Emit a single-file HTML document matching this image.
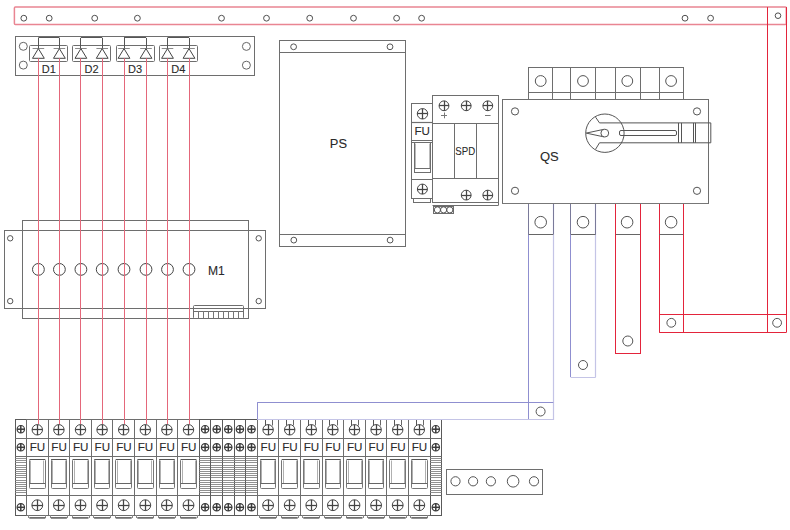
<!DOCTYPE html><html><head><meta charset="utf-8"><style>html,body{margin:0;padding:0;background:#fff;width:790px;height:530px;overflow:hidden}svg{display:block;font-family:"Liberation Sans",sans-serif}</style></head><body>
<svg width="790" height="530" viewBox="0 0 790 530">
<rect x="0" y="0" width="790" height="530" fill="#fff"/>
<rect x="14.4" y="7.0" width="771.9" height="17.6" rx="1" fill="none" stroke="#e98592" stroke-width="1.5"/>
<circle cx="23.8" cy="18.2" r="2.9" stroke="#505050" stroke-width="1" fill="none"/>
<circle cx="49.2" cy="18.2" r="2.9" stroke="#505050" stroke-width="1" fill="none"/>
<circle cx="94.7" cy="18.2" r="2.9" stroke="#505050" stroke-width="1" fill="none"/>
<circle cx="137.4" cy="18.2" r="2.9" stroke="#505050" stroke-width="1" fill="none"/>
<circle cx="221.5" cy="18.2" r="2.9" stroke="#505050" stroke-width="1" fill="none"/>
<circle cx="266.5" cy="18.2" r="2.9" stroke="#505050" stroke-width="1" fill="none"/>
<circle cx="309.7" cy="18.2" r="2.9" stroke="#505050" stroke-width="1" fill="none"/>
<circle cx="353.5" cy="18.2" r="2.9" stroke="#505050" stroke-width="1" fill="none"/>
<circle cx="396.6" cy="18.2" r="2.9" stroke="#505050" stroke-width="1" fill="none"/>
<circle cx="421.6" cy="18.2" r="2.9" stroke="#505050" stroke-width="1" fill="none"/>
<circle cx="685" cy="18.2" r="2.9" stroke="#505050" stroke-width="1" fill="none"/>
<circle cx="710.6" cy="18.2" r="2.9" stroke="#505050" stroke-width="1" fill="none"/>
<circle cx="778" cy="15.7" r="2.8" stroke="#505050" stroke-width="1" fill="none"/>
<line x1="767.5" y1="7.1" x2="767.5" y2="332.5" stroke="#e3243b" stroke-width="1"/>
<line x1="786.5" y1="7.1" x2="786.5" y2="332.5" stroke="#e3243b" stroke-width="1"/>
<rect x="15.5" y="36.5" width="239" height="39" stroke="#6e6e6e" stroke-width="1" fill="none"/>
<circle cx="23.3" cy="46.3" r="4" stroke="#666" stroke-width="1" fill="none"/>
<circle cx="23.3" cy="65.1" r="4" stroke="#666" stroke-width="1" fill="none"/>
<circle cx="246.4" cy="46.4" r="4" stroke="#666" stroke-width="1" fill="none"/>
<circle cx="246.4" cy="65.2" r="4" stroke="#666" stroke-width="1" fill="none"/>
<rect x="29.5" y="45.5" width="38" height="16" stroke="#6e6e6e" stroke-width="1" fill="none" rx="1"/>
<line x1="38.4" y1="37.5" x2="59.4" y2="37.5" stroke="#555" stroke-width="1"/>
<line x1="38.5" y1="37.9" x2="38.5" y2="48.8" stroke="#555" stroke-width="1"/>
<line x1="59.5" y1="37.9" x2="59.5" y2="48.8" stroke="#555" stroke-width="1"/>
<line x1="32.6" y1="48.5" x2="44.2" y2="48.5" stroke="#8a8a8a" stroke-width="1"/>
<path d="M38.4 48.6 L32.5 58.3 L44.3 58.3 Z" fill="none" stroke="#444" stroke-width="1"/>
<line x1="53.6" y1="48.5" x2="65.2" y2="48.5" stroke="#8a8a8a" stroke-width="1"/>
<path d="M59.4 48.6 L53.5 58.3 L65.3 58.3 Z" fill="none" stroke="#444" stroke-width="1"/>
<text x="48.9" y="72.6" font-size="11" fill="#2a2a2a" stroke="#2a2a2a" stroke-width="0.1" text-anchor="middle" font-weight="normal">D1</text>
<rect x="72.5" y="45.5" width="38" height="16" stroke="#6e6e6e" stroke-width="1" fill="none" rx="1"/>
<line x1="80.9" y1="37.5" x2="102.2" y2="37.5" stroke="#555" stroke-width="1"/>
<line x1="80.5" y1="37.9" x2="80.5" y2="48.8" stroke="#555" stroke-width="1"/>
<line x1="102.5" y1="37.9" x2="102.5" y2="48.8" stroke="#555" stroke-width="1"/>
<line x1="75.1" y1="48.5" x2="86.7" y2="48.5" stroke="#8a8a8a" stroke-width="1"/>
<path d="M80.9 48.6 L75 58.3 L86.8 58.3 Z" fill="none" stroke="#444" stroke-width="1"/>
<line x1="96.4" y1="48.5" x2="108" y2="48.5" stroke="#8a8a8a" stroke-width="1"/>
<path d="M102.2 48.6 L96.3 58.3 L108.1 58.3 Z" fill="none" stroke="#444" stroke-width="1"/>
<text x="91.55" y="72.6" font-size="11" fill="#2a2a2a" stroke="#2a2a2a" stroke-width="0.1" text-anchor="middle" font-weight="normal">D2</text>
<rect x="116.5" y="45.5" width="38" height="16" stroke="#6e6e6e" stroke-width="1" fill="none" rx="1"/>
<line x1="124" y1="37.5" x2="146" y2="37.5" stroke="#555" stroke-width="1"/>
<line x1="124.5" y1="37.9" x2="124.5" y2="48.8" stroke="#555" stroke-width="1"/>
<line x1="146.5" y1="37.9" x2="146.5" y2="48.8" stroke="#555" stroke-width="1"/>
<line x1="118.2" y1="48.5" x2="129.8" y2="48.5" stroke="#8a8a8a" stroke-width="1"/>
<path d="M124 48.6 L118.1 58.3 L129.9 58.3 Z" fill="none" stroke="#444" stroke-width="1"/>
<line x1="140.2" y1="48.5" x2="151.8" y2="48.5" stroke="#8a8a8a" stroke-width="1"/>
<path d="M146 48.6 L140.1 58.3 L151.9 58.3 Z" fill="none" stroke="#444" stroke-width="1"/>
<text x="135" y="72.6" font-size="11" fill="#2a2a2a" stroke="#2a2a2a" stroke-width="0.1" text-anchor="middle" font-weight="normal">D3</text>
<rect x="159.5" y="45.5" width="38" height="16" stroke="#6e6e6e" stroke-width="1" fill="none" rx="1"/>
<line x1="167.5" y1="37.5" x2="189" y2="37.5" stroke="#555" stroke-width="1"/>
<line x1="167.5" y1="37.9" x2="167.5" y2="48.8" stroke="#555" stroke-width="1"/>
<line x1="189.5" y1="37.9" x2="189.5" y2="48.8" stroke="#555" stroke-width="1"/>
<line x1="161.7" y1="48.5" x2="173.3" y2="48.5" stroke="#8a8a8a" stroke-width="1"/>
<path d="M167.5 48.6 L161.6 58.3 L173.4 58.3 Z" fill="none" stroke="#444" stroke-width="1"/>
<line x1="183.2" y1="48.5" x2="194.8" y2="48.5" stroke="#8a8a8a" stroke-width="1"/>
<path d="M189 48.6 L183.1 58.3 L194.9 58.3 Z" fill="none" stroke="#444" stroke-width="1"/>
<text x="178.25" y="72.6" font-size="11" fill="#2a2a2a" stroke="#2a2a2a" stroke-width="0.1" text-anchor="middle" font-weight="normal">D4</text>
<rect x="279.5" y="40.5" width="126" height="206" stroke="#6e6e6e" stroke-width="1" fill="none"/>
<line x1="279.3" y1="52.5" x2="405.4" y2="52.5" stroke="#6e6e6e" stroke-width="1"/>
<line x1="279.3" y1="234.5" x2="405.4" y2="234.5" stroke="#6e6e6e" stroke-width="1"/>
<circle cx="293.6" cy="46.8" r="2.9" stroke="#555" stroke-width="1" fill="none"/>
<circle cx="390" cy="46.8" r="2.9" stroke="#555" stroke-width="1" fill="none"/>
<circle cx="293.8" cy="240.1" r="2.9" stroke="#555" stroke-width="1" fill="none"/>
<circle cx="390.1" cy="240.1" r="2.9" stroke="#555" stroke-width="1" fill="none"/>
<text x="338.4" y="147.8" font-size="12.9" fill="#2a2a2a" stroke="#2a2a2a" stroke-width="0.1" text-anchor="middle" font-weight="normal">PS</text>
<rect x="411.5" y="103.5" width="21" height="95" stroke="#6e6e6e" stroke-width="1" fill="none"/>
<circle cx="422.5" cy="113.8" r="5.2" stroke="#444" stroke-width="1" fill="#fff"/>
<line x1="417.3" y1="113.5" x2="427.7" y2="113.5" stroke="#444" stroke-width="1.25"/>
<line x1="422.5" y1="108.6" x2="422.5" y2="119" stroke="#444" stroke-width="1.25"/>
<line x1="411.4" y1="122.5" x2="432.5" y2="122.5" stroke="#6e6e6e" stroke-width="1.2"/>
<text x="422.2" y="134.5" font-size="11.6" fill="#2a2a2a" stroke="#2a2a2a" stroke-width="0.1" text-anchor="middle" font-weight="normal">FU</text>
<line x1="411.4" y1="140.5" x2="432.5" y2="140.5" stroke="#6e6e6e" stroke-width="1"/>
<line x1="411.4" y1="142.5" x2="432.5" y2="142.5" stroke="#6e6e6e" stroke-width="1"/>
<rect x="414.5" y="142.5" width="16" height="30" stroke="#6e6e6e" stroke-width="1" fill="none"/>
<line x1="415.5" y1="143.6" x2="415.5" y2="168.7" stroke="#bbb" stroke-width="1"/>
<line x1="429.5" y1="143.6" x2="429.5" y2="168.7" stroke="#bbb" stroke-width="1"/>
<line x1="414.4" y1="168.5" x2="430.6" y2="168.5" stroke="#6e6e6e" stroke-width="1"/>
<line x1="411.4" y1="179.5" x2="432.5" y2="179.5" stroke="#6e6e6e" stroke-width="1"/>
<circle cx="422.4" cy="189.1" r="5" stroke="#444" stroke-width="1" fill="#fff"/>
<line x1="417.4" y1="189.5" x2="427.4" y2="189.5" stroke="#444" stroke-width="1.25"/>
<line x1="422.5" y1="184.1" x2="422.5" y2="194.1" stroke="#444" stroke-width="1.25"/>
<rect x="413.5" y="198.5" width="17" height="4" stroke="#6e6e6e" stroke-width="1" fill="none"/>
<rect x="432.5" y="95.5" width="66" height="107" stroke="#6e6e6e" stroke-width="1" fill="none"/>
<line x1="432.5" y1="205.5" x2="498.3" y2="205.5" stroke="#6e6e6e" stroke-width="1"/>
<line x1="498.5" y1="202.2" x2="498.5" y2="205.5" stroke="#6e6e6e" stroke-width="1"/>
<line x1="432.5" y1="123.5" x2="498.3" y2="123.5" stroke="#6e6e6e" stroke-width="1.2"/>
<line x1="432.5" y1="178.5" x2="498.3" y2="178.5" stroke="#6e6e6e" stroke-width="1.2"/>
<line x1="454.5" y1="123.7" x2="454.5" y2="178.5" stroke="#6e6e6e" stroke-width="1"/>
<line x1="476.5" y1="123.7" x2="476.5" y2="178.5" stroke="#6e6e6e" stroke-width="1"/>
<circle cx="444" cy="105.8" r="4.9" stroke="#444" stroke-width="1" fill="#fff"/>
<line x1="439.1" y1="105.5" x2="448.9" y2="105.5" stroke="#444" stroke-width="1.25"/>
<line x1="444.5" y1="100.9" x2="444.5" y2="110.7" stroke="#444" stroke-width="1.25"/>
<circle cx="466.2" cy="105.8" r="4.9" stroke="#444" stroke-width="1" fill="#fff"/>
<line x1="461.3" y1="105.5" x2="471.1" y2="105.5" stroke="#444" stroke-width="1.25"/>
<line x1="466.5" y1="100.9" x2="466.5" y2="110.7" stroke="#444" stroke-width="1.25"/>
<circle cx="487.8" cy="105.8" r="4.9" stroke="#444" stroke-width="1" fill="#fff"/>
<line x1="482.9" y1="105.5" x2="492.7" y2="105.5" stroke="#444" stroke-width="1.25"/>
<line x1="487.5" y1="100.9" x2="487.5" y2="110.7" stroke="#444" stroke-width="1.25"/>
<line x1="441" y1="115.5" x2="447" y2="115.5" stroke="#777" stroke-width="1"/>
<line x1="444.5" y1="112.5" x2="444.5" y2="118.3" stroke="#777" stroke-width="1"/>
<line x1="485" y1="115.5" x2="490.6" y2="115.5" stroke="#777" stroke-width="1"/>
<circle cx="466.2" cy="195.1" r="4.9" stroke="#444" stroke-width="1" fill="#fff"/>
<line x1="461.3" y1="195.5" x2="471.1" y2="195.5" stroke="#444" stroke-width="1.25"/>
<line x1="466.5" y1="190.2" x2="466.5" y2="200" stroke="#444" stroke-width="1.25"/>
<circle cx="487.8" cy="195.1" r="4.9" stroke="#444" stroke-width="1" fill="#fff"/>
<line x1="482.9" y1="195.5" x2="492.7" y2="195.5" stroke="#444" stroke-width="1.25"/>
<line x1="487.5" y1="190.2" x2="487.5" y2="200" stroke="#444" stroke-width="1.25"/>
<text transform="translate(465.2 154.6) scale(0.82 1)" font-size="11.8" fill="#2a2a2a" stroke="#2a2a2a" stroke-width="0.1" text-anchor="middle" font-weight="normal">SPD</text>
<rect x="433.5" y="206.5" width="20" height="7" stroke="#6e6e6e" stroke-width="1" fill="none"/>
<circle cx="437.4" cy="209.9" r="3.1" stroke="#555" stroke-width="1" fill="none"/>
<circle cx="443.6" cy="209.9" r="3.1" stroke="#555" stroke-width="1" fill="none"/>
<circle cx="449.8" cy="209.9" r="3.1" stroke="#555" stroke-width="1" fill="none"/>
<rect x="528.5" y="67.5" width="155" height="32" stroke="#6e6e6e" stroke-width="1" fill="none"/>
<line x1="528.6" y1="92.5" x2="683.5" y2="92.5" stroke="#6e6e6e" stroke-width="1"/>
<line x1="552.5" y1="67" x2="552.5" y2="99.4" stroke="#6e6e6e" stroke-width="1"/>
<line x1="570.5" y1="67" x2="570.5" y2="99.4" stroke="#6e6e6e" stroke-width="1"/>
<line x1="595.5" y1="67" x2="595.5" y2="99.4" stroke="#6e6e6e" stroke-width="1"/>
<line x1="615.5" y1="67" x2="615.5" y2="99.4" stroke="#6e6e6e" stroke-width="1"/>
<line x1="640.5" y1="67" x2="640.5" y2="99.4" stroke="#6e6e6e" stroke-width="1"/>
<line x1="659.5" y1="67" x2="659.5" y2="99.4" stroke="#6e6e6e" stroke-width="1"/>
<circle cx="540.7" cy="81" r="5.4" stroke="#555" stroke-width="1" fill="none"/>
<circle cx="583" cy="81" r="5.4" stroke="#555" stroke-width="1" fill="none"/>
<circle cx="627.3" cy="81" r="5.4" stroke="#555" stroke-width="1" fill="none"/>
<circle cx="671.1" cy="81" r="5.4" stroke="#555" stroke-width="1" fill="none"/>
<rect x="502.5" y="99.5" width="206" height="104" stroke="#6e6e6e" stroke-width="1" fill="none"/>
<circle cx="515" cy="111.4" r="3.6" stroke="#555" stroke-width="1" fill="none"/>
<circle cx="697" cy="111.4" r="3.6" stroke="#555" stroke-width="1" fill="none"/>
<circle cx="515" cy="190.8" r="3.6" stroke="#555" stroke-width="1" fill="none"/>
<circle cx="697" cy="190.8" r="3.6" stroke="#555" stroke-width="1" fill="none"/>
<text x="549.4" y="161.4" font-size="13" fill="#2a2a2a" stroke="#2a2a2a" stroke-width="0.1" text-anchor="middle" font-weight="normal">QS</text>
<circle cx="604.9" cy="133.2" r="19.2" stroke="#555" stroke-width="1" fill="#fff"/>
<path d="M595.6 117.2 L599.5 122.9 L710.8 122.9 L710.8 142.8 L599.5 142.8 L595.6 149.2" fill="none" stroke="#555" stroke-width="1"/>
<rect x="619.5" y="130.5" width="57" height="5" stroke="#555" stroke-width="1" fill="none" rx="1.5"/>
<line x1="678.5" y1="122.9" x2="678.5" y2="142.8" stroke="#555" stroke-width="1"/>
<line x1="681.5" y1="122.9" x2="681.5" y2="142.8" stroke="#555" stroke-width="1"/>
<line x1="693.5" y1="122.9" x2="693.5" y2="142.8" stroke="#555" stroke-width="1"/>
<line x1="695.5" y1="122.9" x2="695.5" y2="142.8" stroke="#555" stroke-width="1"/>
<path d="M586.2 133.1 L604.0 129.3 M586.2 133.1 L604.0 136.9" fill="none" stroke="#555" stroke-width="1"/>
<circle cx="604.8" cy="133.1" r="3.9" stroke="#555" stroke-width="1" fill="#fff"/>
<rect x="4.5" y="230.5" width="261" height="78" stroke="#6e6e6e" stroke-width="1" fill="none"/>
<rect x="22.5" y="220.5" width="226" height="98" stroke="#6e6e6e" stroke-width="1" fill="none"/>
<circle cx="10.2" cy="238.3" r="2.7" stroke="#555" stroke-width="1" fill="none"/>
<circle cx="10.2" cy="301.1" r="2.7" stroke="#555" stroke-width="1" fill="none"/>
<circle cx="258.7" cy="238.3" r="2.7" stroke="#555" stroke-width="1" fill="none"/>
<circle cx="258.7" cy="301.1" r="2.7" stroke="#555" stroke-width="1" fill="none"/>
<circle cx="38.4" cy="269.4" r="5.9" stroke="#444" stroke-width="1" fill="none"/>
<circle cx="59.4" cy="269.4" r="5.9" stroke="#444" stroke-width="1" fill="none"/>
<circle cx="80.9" cy="269.4" r="5.9" stroke="#444" stroke-width="1" fill="none"/>
<circle cx="102.2" cy="269.4" r="5.9" stroke="#444" stroke-width="1" fill="none"/>
<circle cx="124" cy="269.4" r="5.9" stroke="#444" stroke-width="1" fill="none"/>
<circle cx="146" cy="269.4" r="5.9" stroke="#444" stroke-width="1" fill="none"/>
<circle cx="167.5" cy="269.4" r="5.9" stroke="#444" stroke-width="1" fill="none"/>
<circle cx="189" cy="269.4" r="5.9" stroke="#444" stroke-width="1" fill="none"/>
<text x="216.3" y="275.1" font-size="12.1" fill="#2a2a2a" stroke="#2a2a2a" stroke-width="0.1" text-anchor="middle" font-weight="normal">M1</text>
<rect x="193.5" y="305.5" width="50" height="13" stroke="#6e6e6e" stroke-width="1" fill="none" rx="1"/>
<line x1="193.6" y1="311.5" x2="243.5" y2="311.5" stroke="#6e6e6e" stroke-width="1"/>
<line x1="198.5" y1="311" x2="198.5" y2="318.2" stroke="#777" stroke-width="1"/>
<line x1="203.5" y1="311" x2="203.5" y2="318.2" stroke="#777" stroke-width="1"/>
<line x1="208.5" y1="311" x2="208.5" y2="318.2" stroke="#777" stroke-width="1"/>
<line x1="213.5" y1="311" x2="213.5" y2="318.2" stroke="#777" stroke-width="1"/>
<line x1="218.5" y1="311" x2="218.5" y2="318.2" stroke="#777" stroke-width="1"/>
<line x1="223.5" y1="311" x2="223.5" y2="318.2" stroke="#777" stroke-width="1"/>
<line x1="228.5" y1="311" x2="228.5" y2="318.2" stroke="#777" stroke-width="1"/>
<line x1="233.5" y1="311" x2="233.5" y2="318.2" stroke="#777" stroke-width="1"/>
<line x1="238.5" y1="311" x2="238.5" y2="318.2" stroke="#777" stroke-width="1"/>
<rect x="15.5" y="419.5" width="11" height="96" stroke="#5a5a5a" stroke-width="1" fill="none"/>
<line x1="15.1" y1="438.5" x2="26.5" y2="438.5" stroke="#6e6e6e" stroke-width="1"/>
<line x1="15.1" y1="456.5" x2="26.5" y2="456.5" stroke="#6e6e6e" stroke-width="1"/>
<line x1="15.1" y1="495.5" x2="26.5" y2="495.5" stroke="#6e6e6e" stroke-width="1"/>
<circle cx="20.8" cy="429.2" r="3.7" stroke="#3a3a3a" stroke-width="1.2" fill="#fff"/>
<line x1="17.1" y1="429.2" x2="24.5" y2="429.2" stroke="#3a3a3a" stroke-width="1.5"/>
<line x1="20.8" y1="425.5" x2="20.8" y2="432.9" stroke="#3a3a3a" stroke-width="1.5"/>
<circle cx="20.8" cy="447.3" r="3.7" stroke="#3a3a3a" stroke-width="1.2" fill="#fff"/>
<line x1="17.1" y1="447.3" x2="24.5" y2="447.3" stroke="#3a3a3a" stroke-width="1.5"/>
<line x1="20.8" y1="443.6" x2="20.8" y2="451" stroke="#3a3a3a" stroke-width="1.5"/>
<circle cx="20.8" cy="507.3" r="3.7" stroke="#3a3a3a" stroke-width="1.2" fill="#fff"/>
<line x1="17.1" y1="507.3" x2="24.5" y2="507.3" stroke="#3a3a3a" stroke-width="1.5"/>
<line x1="20.8" y1="503.6" x2="20.8" y2="511" stroke="#3a3a3a" stroke-width="1.5"/>
<line x1="15.1" y1="458.5" x2="26.5" y2="458.5" stroke="#858585" stroke-width="0.9"/>
<line x1="15.1" y1="460.5" x2="26.5" y2="460.5" stroke="#858585" stroke-width="0.9"/>
<line x1="15.1" y1="462.5" x2="26.5" y2="462.5" stroke="#858585" stroke-width="0.9"/>
<line x1="15.1" y1="465.5" x2="26.5" y2="465.5" stroke="#858585" stroke-width="0.9"/>
<line x1="15.1" y1="467.5" x2="26.5" y2="467.5" stroke="#858585" stroke-width="0.9"/>
<line x1="15.1" y1="469.5" x2="26.5" y2="469.5" stroke="#858585" stroke-width="0.9"/>
<line x1="15.1" y1="471.5" x2="26.5" y2="471.5" stroke="#858585" stroke-width="0.9"/>
<line x1="15.1" y1="473.5" x2="26.5" y2="473.5" stroke="#858585" stroke-width="0.9"/>
<line x1="15.1" y1="475.5" x2="26.5" y2="475.5" stroke="#858585" stroke-width="0.9"/>
<line x1="15.1" y1="477.5" x2="26.5" y2="477.5" stroke="#858585" stroke-width="0.9"/>
<line x1="15.1" y1="480.5" x2="26.5" y2="480.5" stroke="#858585" stroke-width="0.9"/>
<line x1="15.1" y1="482.5" x2="26.5" y2="482.5" stroke="#858585" stroke-width="0.9"/>
<line x1="15.1" y1="484.5" x2="26.5" y2="484.5" stroke="#858585" stroke-width="0.9"/>
<line x1="15.1" y1="486.5" x2="26.5" y2="486.5" stroke="#858585" stroke-width="0.9"/>
<line x1="15.1" y1="488.5" x2="26.5" y2="488.5" stroke="#858585" stroke-width="0.9"/>
<line x1="15.1" y1="490.5" x2="26.5" y2="490.5" stroke="#858585" stroke-width="0.9"/>
<line x1="15.1" y1="492.5" x2="26.5" y2="492.5" stroke="#858585" stroke-width="0.9"/>
<rect x="26.5" y="419.5" width="22" height="96" stroke="#6e6e6e" stroke-width="1" fill="none"/>
<line x1="26.5" y1="438.5" x2="48.1" y2="438.5" stroke="#6e6e6e" stroke-width="1"/>
<line x1="26.5" y1="456.5" x2="48.1" y2="456.5" stroke="#6e6e6e" stroke-width="1"/>
<line x1="26.5" y1="495.5" x2="48.1" y2="495.5" stroke="#6e6e6e" stroke-width="1"/>
<circle cx="37.3" cy="429.8" r="5.2" stroke="#444" stroke-width="1" fill="#fff"/>
<line x1="32.1" y1="429.5" x2="42.5" y2="429.5" stroke="#444" stroke-width="1.25"/>
<line x1="37.5" y1="424.6" x2="37.5" y2="435" stroke="#444" stroke-width="1.25"/>
<text x="37.5" y="450.8" font-size="11.6" fill="#2a2a2a" stroke="#2a2a2a" stroke-width="0.1" text-anchor="middle" font-weight="normal">FU</text>
<rect x="29.5" y="459.5" width="16" height="29" stroke="#777" stroke-width="1" fill="none" rx="1"/>
<line x1="29.5" y1="459.5" x2="45.1" y2="459.5" stroke="#555" stroke-width="1"/>
<line x1="30.5" y1="460.5" x2="30.5" y2="483.9" stroke="#b0b0b0" stroke-width="1"/>
<line x1="43.5" y1="460.5" x2="43.5" y2="483.9" stroke="#b0b0b0" stroke-width="1"/>
<line x1="29.5" y1="483.5" x2="45.1" y2="483.5" stroke="#666" stroke-width="1"/>
<circle cx="37.3" cy="505.2" r="5.4" stroke="#444" stroke-width="1" fill="#fff"/>
<line x1="31.9" y1="505.5" x2="42.7" y2="505.5" stroke="#444" stroke-width="1.25"/>
<line x1="37.5" y1="499.8" x2="37.5" y2="510.6" stroke="#444" stroke-width="1.25"/>
<line x1="28.5" y1="515.2" x2="28.5" y2="518" stroke="#888" stroke-width="1"/>
<line x1="45.5" y1="515.2" x2="45.5" y2="518" stroke="#888" stroke-width="1"/>
<line x1="29.3" y1="517.9" x2="45.3" y2="517.9" stroke="#555" stroke-width="1.5"/>
<rect x="48.5" y="419.5" width="21" height="96" stroke="#6e6e6e" stroke-width="1" fill="none"/>
<line x1="48.1" y1="438.5" x2="69.7" y2="438.5" stroke="#6e6e6e" stroke-width="1"/>
<line x1="48.1" y1="456.5" x2="69.7" y2="456.5" stroke="#6e6e6e" stroke-width="1"/>
<line x1="48.1" y1="495.5" x2="69.7" y2="495.5" stroke="#6e6e6e" stroke-width="1"/>
<circle cx="58.9" cy="429.8" r="5.2" stroke="#444" stroke-width="1" fill="#fff"/>
<line x1="53.7" y1="429.5" x2="64.1" y2="429.5" stroke="#444" stroke-width="1.25"/>
<line x1="58.5" y1="424.6" x2="58.5" y2="435" stroke="#444" stroke-width="1.25"/>
<text x="59.1" y="450.8" font-size="11.6" fill="#2a2a2a" stroke="#2a2a2a" stroke-width="0.1" text-anchor="middle" font-weight="normal">FU</text>
<rect x="51.5" y="459.5" width="15" height="29" stroke="#777" stroke-width="1" fill="none" rx="1"/>
<line x1="51.1" y1="459.5" x2="66.7" y2="459.5" stroke="#555" stroke-width="1"/>
<line x1="52.5" y1="460.5" x2="52.5" y2="483.9" stroke="#b0b0b0" stroke-width="1"/>
<line x1="65.5" y1="460.5" x2="65.5" y2="483.9" stroke="#b0b0b0" stroke-width="1"/>
<line x1="51.1" y1="483.5" x2="66.7" y2="483.5" stroke="#666" stroke-width="1"/>
<circle cx="58.9" cy="505.2" r="5.4" stroke="#444" stroke-width="1" fill="#fff"/>
<line x1="53.5" y1="505.5" x2="64.3" y2="505.5" stroke="#444" stroke-width="1.25"/>
<line x1="58.5" y1="499.8" x2="58.5" y2="510.6" stroke="#444" stroke-width="1.25"/>
<line x1="50.5" y1="515.2" x2="50.5" y2="518" stroke="#888" stroke-width="1"/>
<line x1="67.5" y1="515.2" x2="67.5" y2="518" stroke="#888" stroke-width="1"/>
<line x1="50.9" y1="517.9" x2="66.9" y2="517.9" stroke="#555" stroke-width="1.5"/>
<rect x="69.5" y="419.5" width="22" height="96" stroke="#6e6e6e" stroke-width="1" fill="none"/>
<line x1="69.7" y1="438.5" x2="91.3" y2="438.5" stroke="#6e6e6e" stroke-width="1"/>
<line x1="69.7" y1="456.5" x2="91.3" y2="456.5" stroke="#6e6e6e" stroke-width="1"/>
<line x1="69.7" y1="495.5" x2="91.3" y2="495.5" stroke="#6e6e6e" stroke-width="1"/>
<circle cx="80.5" cy="429.8" r="5.2" stroke="#444" stroke-width="1" fill="#fff"/>
<line x1="75.3" y1="429.5" x2="85.7" y2="429.5" stroke="#444" stroke-width="1.25"/>
<line x1="80.5" y1="424.6" x2="80.5" y2="435" stroke="#444" stroke-width="1.25"/>
<text x="80.7" y="450.8" font-size="11.6" fill="#2a2a2a" stroke="#2a2a2a" stroke-width="0.1" text-anchor="middle" font-weight="normal">FU</text>
<rect x="72.5" y="459.5" width="16" height="29" stroke="#777" stroke-width="1" fill="none" rx="1"/>
<line x1="72.7" y1="459.5" x2="88.3" y2="459.5" stroke="#555" stroke-width="1"/>
<line x1="74.5" y1="460.5" x2="74.5" y2="483.9" stroke="#b0b0b0" stroke-width="1"/>
<line x1="87.5" y1="460.5" x2="87.5" y2="483.9" stroke="#b0b0b0" stroke-width="1"/>
<line x1="72.7" y1="483.5" x2="88.3" y2="483.5" stroke="#666" stroke-width="1"/>
<circle cx="80.5" cy="505.2" r="5.4" stroke="#444" stroke-width="1" fill="#fff"/>
<line x1="75.1" y1="505.5" x2="85.9" y2="505.5" stroke="#444" stroke-width="1.25"/>
<line x1="80.5" y1="499.8" x2="80.5" y2="510.6" stroke="#444" stroke-width="1.25"/>
<line x1="72.5" y1="515.2" x2="72.5" y2="518" stroke="#888" stroke-width="1"/>
<line x1="89.5" y1="515.2" x2="89.5" y2="518" stroke="#888" stroke-width="1"/>
<line x1="72.5" y1="517.9" x2="88.5" y2="517.9" stroke="#555" stroke-width="1.5"/>
<rect x="91.5" y="419.5" width="21" height="96" stroke="#6e6e6e" stroke-width="1" fill="none"/>
<line x1="91.3" y1="438.5" x2="112.9" y2="438.5" stroke="#6e6e6e" stroke-width="1"/>
<line x1="91.3" y1="456.5" x2="112.9" y2="456.5" stroke="#6e6e6e" stroke-width="1"/>
<line x1="91.3" y1="495.5" x2="112.9" y2="495.5" stroke="#6e6e6e" stroke-width="1"/>
<circle cx="102.1" cy="429.8" r="5.2" stroke="#444" stroke-width="1" fill="#fff"/>
<line x1="96.9" y1="429.5" x2="107.3" y2="429.5" stroke="#444" stroke-width="1.25"/>
<line x1="102.5" y1="424.6" x2="102.5" y2="435" stroke="#444" stroke-width="1.25"/>
<text x="102.3" y="450.8" font-size="11.6" fill="#2a2a2a" stroke="#2a2a2a" stroke-width="0.1" text-anchor="middle" font-weight="normal">FU</text>
<rect x="94.5" y="459.5" width="15" height="29" stroke="#777" stroke-width="1" fill="none" rx="1"/>
<line x1="94.3" y1="459.5" x2="109.9" y2="459.5" stroke="#555" stroke-width="1"/>
<line x1="95.5" y1="460.5" x2="95.5" y2="483.9" stroke="#b0b0b0" stroke-width="1"/>
<line x1="108.5" y1="460.5" x2="108.5" y2="483.9" stroke="#b0b0b0" stroke-width="1"/>
<line x1="94.3" y1="483.5" x2="109.9" y2="483.5" stroke="#666" stroke-width="1"/>
<circle cx="102.1" cy="505.2" r="5.4" stroke="#444" stroke-width="1" fill="#fff"/>
<line x1="96.7" y1="505.5" x2="107.5" y2="505.5" stroke="#444" stroke-width="1.25"/>
<line x1="102.5" y1="499.8" x2="102.5" y2="510.6" stroke="#444" stroke-width="1.25"/>
<line x1="93.5" y1="515.2" x2="93.5" y2="518" stroke="#888" stroke-width="1"/>
<line x1="110.5" y1="515.2" x2="110.5" y2="518" stroke="#888" stroke-width="1"/>
<line x1="94.1" y1="517.9" x2="110.1" y2="517.9" stroke="#555" stroke-width="1.5"/>
<rect x="112.5" y="419.5" width="22" height="96" stroke="#6e6e6e" stroke-width="1" fill="none"/>
<line x1="112.9" y1="438.5" x2="134.5" y2="438.5" stroke="#6e6e6e" stroke-width="1"/>
<line x1="112.9" y1="456.5" x2="134.5" y2="456.5" stroke="#6e6e6e" stroke-width="1"/>
<line x1="112.9" y1="495.5" x2="134.5" y2="495.5" stroke="#6e6e6e" stroke-width="1"/>
<circle cx="123.7" cy="429.8" r="5.2" stroke="#444" stroke-width="1" fill="#fff"/>
<line x1="118.5" y1="429.5" x2="128.9" y2="429.5" stroke="#444" stroke-width="1.25"/>
<line x1="123.5" y1="424.6" x2="123.5" y2="435" stroke="#444" stroke-width="1.25"/>
<text x="123.9" y="450.8" font-size="11.6" fill="#2a2a2a" stroke="#2a2a2a" stroke-width="0.1" text-anchor="middle" font-weight="normal">FU</text>
<rect x="115.5" y="459.5" width="16" height="29" stroke="#777" stroke-width="1" fill="none" rx="1"/>
<line x1="115.9" y1="459.5" x2="131.5" y2="459.5" stroke="#555" stroke-width="1"/>
<line x1="117.5" y1="460.5" x2="117.5" y2="483.9" stroke="#b0b0b0" stroke-width="1"/>
<line x1="130.5" y1="460.5" x2="130.5" y2="483.9" stroke="#b0b0b0" stroke-width="1"/>
<line x1="115.9" y1="483.5" x2="131.5" y2="483.5" stroke="#666" stroke-width="1"/>
<circle cx="123.7" cy="505.2" r="5.4" stroke="#444" stroke-width="1" fill="#fff"/>
<line x1="118.3" y1="505.5" x2="129.1" y2="505.5" stroke="#444" stroke-width="1.25"/>
<line x1="123.5" y1="499.8" x2="123.5" y2="510.6" stroke="#444" stroke-width="1.25"/>
<line x1="115.5" y1="515.2" x2="115.5" y2="518" stroke="#888" stroke-width="1"/>
<line x1="132.5" y1="515.2" x2="132.5" y2="518" stroke="#888" stroke-width="1"/>
<line x1="115.7" y1="517.9" x2="131.7" y2="517.9" stroke="#555" stroke-width="1.5"/>
<rect x="134.5" y="419.5" width="22" height="96" stroke="#6e6e6e" stroke-width="1" fill="none"/>
<line x1="134.5" y1="438.5" x2="156.1" y2="438.5" stroke="#6e6e6e" stroke-width="1"/>
<line x1="134.5" y1="456.5" x2="156.1" y2="456.5" stroke="#6e6e6e" stroke-width="1"/>
<line x1="134.5" y1="495.5" x2="156.1" y2="495.5" stroke="#6e6e6e" stroke-width="1"/>
<circle cx="145.3" cy="429.8" r="5.2" stroke="#444" stroke-width="1" fill="#fff"/>
<line x1="140.1" y1="429.5" x2="150.5" y2="429.5" stroke="#444" stroke-width="1.25"/>
<line x1="145.5" y1="424.6" x2="145.5" y2="435" stroke="#444" stroke-width="1.25"/>
<text x="145.5" y="450.8" font-size="11.6" fill="#2a2a2a" stroke="#2a2a2a" stroke-width="0.1" text-anchor="middle" font-weight="normal">FU</text>
<rect x="137.5" y="459.5" width="16" height="29" stroke="#777" stroke-width="1" fill="none" rx="1"/>
<line x1="137.5" y1="459.5" x2="153.1" y2="459.5" stroke="#555" stroke-width="1"/>
<line x1="138.5" y1="460.5" x2="138.5" y2="483.9" stroke="#b0b0b0" stroke-width="1"/>
<line x1="151.5" y1="460.5" x2="151.5" y2="483.9" stroke="#b0b0b0" stroke-width="1"/>
<line x1="137.5" y1="483.5" x2="153.1" y2="483.5" stroke="#666" stroke-width="1"/>
<circle cx="145.3" cy="505.2" r="5.4" stroke="#444" stroke-width="1" fill="#fff"/>
<line x1="139.9" y1="505.5" x2="150.7" y2="505.5" stroke="#444" stroke-width="1.25"/>
<line x1="145.5" y1="499.8" x2="145.5" y2="510.6" stroke="#444" stroke-width="1.25"/>
<line x1="136.5" y1="515.2" x2="136.5" y2="518" stroke="#888" stroke-width="1"/>
<line x1="153.5" y1="515.2" x2="153.5" y2="518" stroke="#888" stroke-width="1"/>
<line x1="137.3" y1="517.9" x2="153.3" y2="517.9" stroke="#555" stroke-width="1.5"/>
<rect x="156.5" y="419.5" width="21" height="96" stroke="#6e6e6e" stroke-width="1" fill="none"/>
<line x1="156.1" y1="438.5" x2="177.7" y2="438.5" stroke="#6e6e6e" stroke-width="1"/>
<line x1="156.1" y1="456.5" x2="177.7" y2="456.5" stroke="#6e6e6e" stroke-width="1"/>
<line x1="156.1" y1="495.5" x2="177.7" y2="495.5" stroke="#6e6e6e" stroke-width="1"/>
<circle cx="166.9" cy="429.8" r="5.2" stroke="#444" stroke-width="1" fill="#fff"/>
<line x1="161.7" y1="429.5" x2="172.1" y2="429.5" stroke="#444" stroke-width="1.25"/>
<line x1="166.5" y1="424.6" x2="166.5" y2="435" stroke="#444" stroke-width="1.25"/>
<text x="167.1" y="450.8" font-size="11.6" fill="#2a2a2a" stroke="#2a2a2a" stroke-width="0.1" text-anchor="middle" font-weight="normal">FU</text>
<rect x="159.5" y="459.5" width="15" height="29" stroke="#777" stroke-width="1" fill="none" rx="1"/>
<line x1="159.1" y1="459.5" x2="174.7" y2="459.5" stroke="#555" stroke-width="1"/>
<line x1="160.5" y1="460.5" x2="160.5" y2="483.9" stroke="#b0b0b0" stroke-width="1"/>
<line x1="173.5" y1="460.5" x2="173.5" y2="483.9" stroke="#b0b0b0" stroke-width="1"/>
<line x1="159.1" y1="483.5" x2="174.7" y2="483.5" stroke="#666" stroke-width="1"/>
<circle cx="166.9" cy="505.2" r="5.4" stroke="#444" stroke-width="1" fill="#fff"/>
<line x1="161.5" y1="505.5" x2="172.3" y2="505.5" stroke="#444" stroke-width="1.25"/>
<line x1="166.5" y1="499.8" x2="166.5" y2="510.6" stroke="#444" stroke-width="1.25"/>
<line x1="158.5" y1="515.2" x2="158.5" y2="518" stroke="#888" stroke-width="1"/>
<line x1="175.5" y1="515.2" x2="175.5" y2="518" stroke="#888" stroke-width="1"/>
<line x1="158.9" y1="517.9" x2="174.9" y2="517.9" stroke="#555" stroke-width="1.5"/>
<rect x="177.5" y="419.5" width="22" height="96" stroke="#6e6e6e" stroke-width="1" fill="none"/>
<line x1="177.7" y1="438.5" x2="199.3" y2="438.5" stroke="#6e6e6e" stroke-width="1"/>
<line x1="177.7" y1="456.5" x2="199.3" y2="456.5" stroke="#6e6e6e" stroke-width="1"/>
<line x1="177.7" y1="495.5" x2="199.3" y2="495.5" stroke="#6e6e6e" stroke-width="1"/>
<circle cx="188.5" cy="429.8" r="5.2" stroke="#444" stroke-width="1" fill="#fff"/>
<line x1="183.3" y1="429.5" x2="193.7" y2="429.5" stroke="#444" stroke-width="1.25"/>
<line x1="188.5" y1="424.6" x2="188.5" y2="435" stroke="#444" stroke-width="1.25"/>
<text x="188.7" y="450.8" font-size="11.6" fill="#2a2a2a" stroke="#2a2a2a" stroke-width="0.1" text-anchor="middle" font-weight="normal">FU</text>
<rect x="180.5" y="459.5" width="16" height="29" stroke="#777" stroke-width="1" fill="none" rx="1"/>
<line x1="180.7" y1="459.5" x2="196.3" y2="459.5" stroke="#555" stroke-width="1"/>
<line x1="182.5" y1="460.5" x2="182.5" y2="483.9" stroke="#b0b0b0" stroke-width="1"/>
<line x1="195.5" y1="460.5" x2="195.5" y2="483.9" stroke="#b0b0b0" stroke-width="1"/>
<line x1="180.7" y1="483.5" x2="196.3" y2="483.5" stroke="#666" stroke-width="1"/>
<circle cx="188.5" cy="505.2" r="5.4" stroke="#444" stroke-width="1" fill="#fff"/>
<line x1="183.1" y1="505.5" x2="193.9" y2="505.5" stroke="#444" stroke-width="1.25"/>
<line x1="188.5" y1="499.8" x2="188.5" y2="510.6" stroke="#444" stroke-width="1.25"/>
<line x1="180.5" y1="515.2" x2="180.5" y2="518" stroke="#888" stroke-width="1"/>
<line x1="197.5" y1="515.2" x2="197.5" y2="518" stroke="#888" stroke-width="1"/>
<line x1="180.5" y1="517.9" x2="196.5" y2="517.9" stroke="#555" stroke-width="1.5"/>
<rect x="199.5" y="419.5" width="11" height="96" stroke="#5a5a5a" stroke-width="1" fill="none"/>
<line x1="199.3" y1="438.5" x2="210.9" y2="438.5" stroke="#6e6e6e" stroke-width="1"/>
<line x1="199.3" y1="456.5" x2="210.9" y2="456.5" stroke="#6e6e6e" stroke-width="1"/>
<line x1="199.3" y1="495.5" x2="210.9" y2="495.5" stroke="#6e6e6e" stroke-width="1"/>
<circle cx="205.1" cy="429.2" r="3.7" stroke="#3a3a3a" stroke-width="1.2" fill="#fff"/>
<line x1="201.4" y1="429.2" x2="208.8" y2="429.2" stroke="#3a3a3a" stroke-width="1.5"/>
<line x1="205.1" y1="425.5" x2="205.1" y2="432.9" stroke="#3a3a3a" stroke-width="1.5"/>
<circle cx="205.1" cy="447.3" r="3.7" stroke="#3a3a3a" stroke-width="1.2" fill="#fff"/>
<line x1="201.4" y1="447.3" x2="208.8" y2="447.3" stroke="#3a3a3a" stroke-width="1.5"/>
<line x1="205.1" y1="443.6" x2="205.1" y2="451" stroke="#3a3a3a" stroke-width="1.5"/>
<circle cx="205.1" cy="507.3" r="3.7" stroke="#3a3a3a" stroke-width="1.2" fill="#fff"/>
<line x1="201.4" y1="507.3" x2="208.8" y2="507.3" stroke="#3a3a3a" stroke-width="1.5"/>
<line x1="205.1" y1="503.6" x2="205.1" y2="511" stroke="#3a3a3a" stroke-width="1.5"/>
<line x1="199.3" y1="458.5" x2="210.9" y2="458.5" stroke="#858585" stroke-width="0.9"/>
<line x1="199.3" y1="460.5" x2="210.9" y2="460.5" stroke="#858585" stroke-width="0.9"/>
<line x1="199.3" y1="462.5" x2="210.9" y2="462.5" stroke="#858585" stroke-width="0.9"/>
<line x1="199.3" y1="465.5" x2="210.9" y2="465.5" stroke="#858585" stroke-width="0.9"/>
<line x1="199.3" y1="467.5" x2="210.9" y2="467.5" stroke="#858585" stroke-width="0.9"/>
<line x1="199.3" y1="469.5" x2="210.9" y2="469.5" stroke="#858585" stroke-width="0.9"/>
<line x1="199.3" y1="471.5" x2="210.9" y2="471.5" stroke="#858585" stroke-width="0.9"/>
<line x1="199.3" y1="473.5" x2="210.9" y2="473.5" stroke="#858585" stroke-width="0.9"/>
<line x1="199.3" y1="475.5" x2="210.9" y2="475.5" stroke="#858585" stroke-width="0.9"/>
<line x1="199.3" y1="477.5" x2="210.9" y2="477.5" stroke="#858585" stroke-width="0.9"/>
<line x1="199.3" y1="480.5" x2="210.9" y2="480.5" stroke="#858585" stroke-width="0.9"/>
<line x1="199.3" y1="482.5" x2="210.9" y2="482.5" stroke="#858585" stroke-width="0.9"/>
<line x1="199.3" y1="484.5" x2="210.9" y2="484.5" stroke="#858585" stroke-width="0.9"/>
<line x1="199.3" y1="486.5" x2="210.9" y2="486.5" stroke="#858585" stroke-width="0.9"/>
<line x1="199.3" y1="488.5" x2="210.9" y2="488.5" stroke="#858585" stroke-width="0.9"/>
<line x1="199.3" y1="490.5" x2="210.9" y2="490.5" stroke="#858585" stroke-width="0.9"/>
<line x1="199.3" y1="492.5" x2="210.9" y2="492.5" stroke="#858585" stroke-width="0.9"/>
<rect x="210.5" y="419.5" width="12" height="96" stroke="#5a5a5a" stroke-width="1" fill="none"/>
<line x1="210.9" y1="438.5" x2="222.5" y2="438.5" stroke="#6e6e6e" stroke-width="1"/>
<line x1="210.9" y1="456.5" x2="222.5" y2="456.5" stroke="#6e6e6e" stroke-width="1"/>
<line x1="210.9" y1="495.5" x2="222.5" y2="495.5" stroke="#6e6e6e" stroke-width="1"/>
<circle cx="216.7" cy="429.2" r="3.7" stroke="#3a3a3a" stroke-width="1.2" fill="#fff"/>
<line x1="213" y1="429.2" x2="220.4" y2="429.2" stroke="#3a3a3a" stroke-width="1.5"/>
<line x1="216.7" y1="425.5" x2="216.7" y2="432.9" stroke="#3a3a3a" stroke-width="1.5"/>
<circle cx="216.7" cy="447.3" r="3.7" stroke="#3a3a3a" stroke-width="1.2" fill="#fff"/>
<line x1="213" y1="447.3" x2="220.4" y2="447.3" stroke="#3a3a3a" stroke-width="1.5"/>
<line x1="216.7" y1="443.6" x2="216.7" y2="451" stroke="#3a3a3a" stroke-width="1.5"/>
<circle cx="216.7" cy="507.3" r="3.7" stroke="#3a3a3a" stroke-width="1.2" fill="#fff"/>
<line x1="213" y1="507.3" x2="220.4" y2="507.3" stroke="#3a3a3a" stroke-width="1.5"/>
<line x1="216.7" y1="503.6" x2="216.7" y2="511" stroke="#3a3a3a" stroke-width="1.5"/>
<line x1="210.9" y1="458.5" x2="222.5" y2="458.5" stroke="#858585" stroke-width="0.9"/>
<line x1="210.9" y1="460.5" x2="222.5" y2="460.5" stroke="#858585" stroke-width="0.9"/>
<line x1="210.9" y1="462.5" x2="222.5" y2="462.5" stroke="#858585" stroke-width="0.9"/>
<line x1="210.9" y1="465.5" x2="222.5" y2="465.5" stroke="#858585" stroke-width="0.9"/>
<line x1="210.9" y1="467.5" x2="222.5" y2="467.5" stroke="#858585" stroke-width="0.9"/>
<line x1="210.9" y1="469.5" x2="222.5" y2="469.5" stroke="#858585" stroke-width="0.9"/>
<line x1="210.9" y1="471.5" x2="222.5" y2="471.5" stroke="#858585" stroke-width="0.9"/>
<line x1="210.9" y1="473.5" x2="222.5" y2="473.5" stroke="#858585" stroke-width="0.9"/>
<line x1="210.9" y1="475.5" x2="222.5" y2="475.5" stroke="#858585" stroke-width="0.9"/>
<line x1="210.9" y1="477.5" x2="222.5" y2="477.5" stroke="#858585" stroke-width="0.9"/>
<line x1="210.9" y1="480.5" x2="222.5" y2="480.5" stroke="#858585" stroke-width="0.9"/>
<line x1="210.9" y1="482.5" x2="222.5" y2="482.5" stroke="#858585" stroke-width="0.9"/>
<line x1="210.9" y1="484.5" x2="222.5" y2="484.5" stroke="#858585" stroke-width="0.9"/>
<line x1="210.9" y1="486.5" x2="222.5" y2="486.5" stroke="#858585" stroke-width="0.9"/>
<line x1="210.9" y1="488.5" x2="222.5" y2="488.5" stroke="#858585" stroke-width="0.9"/>
<line x1="210.9" y1="490.5" x2="222.5" y2="490.5" stroke="#858585" stroke-width="0.9"/>
<line x1="210.9" y1="492.5" x2="222.5" y2="492.5" stroke="#858585" stroke-width="0.9"/>
<rect x="222.5" y="419.5" width="12" height="96" stroke="#5a5a5a" stroke-width="1" fill="none"/>
<line x1="222.5" y1="438.5" x2="234.1" y2="438.5" stroke="#6e6e6e" stroke-width="1"/>
<line x1="222.5" y1="456.5" x2="234.1" y2="456.5" stroke="#6e6e6e" stroke-width="1"/>
<line x1="222.5" y1="495.5" x2="234.1" y2="495.5" stroke="#6e6e6e" stroke-width="1"/>
<circle cx="228.3" cy="429.2" r="3.7" stroke="#3a3a3a" stroke-width="1.2" fill="#fff"/>
<line x1="224.6" y1="429.2" x2="232" y2="429.2" stroke="#3a3a3a" stroke-width="1.5"/>
<line x1="228.3" y1="425.5" x2="228.3" y2="432.9" stroke="#3a3a3a" stroke-width="1.5"/>
<circle cx="228.3" cy="447.3" r="3.7" stroke="#3a3a3a" stroke-width="1.2" fill="#fff"/>
<line x1="224.6" y1="447.3" x2="232" y2="447.3" stroke="#3a3a3a" stroke-width="1.5"/>
<line x1="228.3" y1="443.6" x2="228.3" y2="451" stroke="#3a3a3a" stroke-width="1.5"/>
<circle cx="228.3" cy="507.3" r="3.7" stroke="#3a3a3a" stroke-width="1.2" fill="#fff"/>
<line x1="224.6" y1="507.3" x2="232" y2="507.3" stroke="#3a3a3a" stroke-width="1.5"/>
<line x1="228.3" y1="503.6" x2="228.3" y2="511" stroke="#3a3a3a" stroke-width="1.5"/>
<line x1="222.5" y1="458.5" x2="234.1" y2="458.5" stroke="#858585" stroke-width="0.9"/>
<line x1="222.5" y1="460.5" x2="234.1" y2="460.5" stroke="#858585" stroke-width="0.9"/>
<line x1="222.5" y1="462.5" x2="234.1" y2="462.5" stroke="#858585" stroke-width="0.9"/>
<line x1="222.5" y1="465.5" x2="234.1" y2="465.5" stroke="#858585" stroke-width="0.9"/>
<line x1="222.5" y1="467.5" x2="234.1" y2="467.5" stroke="#858585" stroke-width="0.9"/>
<line x1="222.5" y1="469.5" x2="234.1" y2="469.5" stroke="#858585" stroke-width="0.9"/>
<line x1="222.5" y1="471.5" x2="234.1" y2="471.5" stroke="#858585" stroke-width="0.9"/>
<line x1="222.5" y1="473.5" x2="234.1" y2="473.5" stroke="#858585" stroke-width="0.9"/>
<line x1="222.5" y1="475.5" x2="234.1" y2="475.5" stroke="#858585" stroke-width="0.9"/>
<line x1="222.5" y1="477.5" x2="234.1" y2="477.5" stroke="#858585" stroke-width="0.9"/>
<line x1="222.5" y1="480.5" x2="234.1" y2="480.5" stroke="#858585" stroke-width="0.9"/>
<line x1="222.5" y1="482.5" x2="234.1" y2="482.5" stroke="#858585" stroke-width="0.9"/>
<line x1="222.5" y1="484.5" x2="234.1" y2="484.5" stroke="#858585" stroke-width="0.9"/>
<line x1="222.5" y1="486.5" x2="234.1" y2="486.5" stroke="#858585" stroke-width="0.9"/>
<line x1="222.5" y1="488.5" x2="234.1" y2="488.5" stroke="#858585" stroke-width="0.9"/>
<line x1="222.5" y1="490.5" x2="234.1" y2="490.5" stroke="#858585" stroke-width="0.9"/>
<line x1="222.5" y1="492.5" x2="234.1" y2="492.5" stroke="#858585" stroke-width="0.9"/>
<rect x="234.5" y="419.5" width="11" height="96" stroke="#5a5a5a" stroke-width="1" fill="none"/>
<line x1="234.1" y1="438.5" x2="245.7" y2="438.5" stroke="#6e6e6e" stroke-width="1"/>
<line x1="234.1" y1="456.5" x2="245.7" y2="456.5" stroke="#6e6e6e" stroke-width="1"/>
<line x1="234.1" y1="495.5" x2="245.7" y2="495.5" stroke="#6e6e6e" stroke-width="1"/>
<circle cx="239.9" cy="429.2" r="3.7" stroke="#3a3a3a" stroke-width="1.2" fill="#fff"/>
<line x1="236.2" y1="429.2" x2="243.6" y2="429.2" stroke="#3a3a3a" stroke-width="1.5"/>
<line x1="239.9" y1="425.5" x2="239.9" y2="432.9" stroke="#3a3a3a" stroke-width="1.5"/>
<circle cx="239.9" cy="447.3" r="3.7" stroke="#3a3a3a" stroke-width="1.2" fill="#fff"/>
<line x1="236.2" y1="447.3" x2="243.6" y2="447.3" stroke="#3a3a3a" stroke-width="1.5"/>
<line x1="239.9" y1="443.6" x2="239.9" y2="451" stroke="#3a3a3a" stroke-width="1.5"/>
<circle cx="239.9" cy="507.3" r="3.7" stroke="#3a3a3a" stroke-width="1.2" fill="#fff"/>
<line x1="236.2" y1="507.3" x2="243.6" y2="507.3" stroke="#3a3a3a" stroke-width="1.5"/>
<line x1="239.9" y1="503.6" x2="239.9" y2="511" stroke="#3a3a3a" stroke-width="1.5"/>
<line x1="234.1" y1="458.5" x2="245.7" y2="458.5" stroke="#858585" stroke-width="0.9"/>
<line x1="234.1" y1="460.5" x2="245.7" y2="460.5" stroke="#858585" stroke-width="0.9"/>
<line x1="234.1" y1="462.5" x2="245.7" y2="462.5" stroke="#858585" stroke-width="0.9"/>
<line x1="234.1" y1="465.5" x2="245.7" y2="465.5" stroke="#858585" stroke-width="0.9"/>
<line x1="234.1" y1="467.5" x2="245.7" y2="467.5" stroke="#858585" stroke-width="0.9"/>
<line x1="234.1" y1="469.5" x2="245.7" y2="469.5" stroke="#858585" stroke-width="0.9"/>
<line x1="234.1" y1="471.5" x2="245.7" y2="471.5" stroke="#858585" stroke-width="0.9"/>
<line x1="234.1" y1="473.5" x2="245.7" y2="473.5" stroke="#858585" stroke-width="0.9"/>
<line x1="234.1" y1="475.5" x2="245.7" y2="475.5" stroke="#858585" stroke-width="0.9"/>
<line x1="234.1" y1="477.5" x2="245.7" y2="477.5" stroke="#858585" stroke-width="0.9"/>
<line x1="234.1" y1="480.5" x2="245.7" y2="480.5" stroke="#858585" stroke-width="0.9"/>
<line x1="234.1" y1="482.5" x2="245.7" y2="482.5" stroke="#858585" stroke-width="0.9"/>
<line x1="234.1" y1="484.5" x2="245.7" y2="484.5" stroke="#858585" stroke-width="0.9"/>
<line x1="234.1" y1="486.5" x2="245.7" y2="486.5" stroke="#858585" stroke-width="0.9"/>
<line x1="234.1" y1="488.5" x2="245.7" y2="488.5" stroke="#858585" stroke-width="0.9"/>
<line x1="234.1" y1="490.5" x2="245.7" y2="490.5" stroke="#858585" stroke-width="0.9"/>
<line x1="234.1" y1="492.5" x2="245.7" y2="492.5" stroke="#858585" stroke-width="0.9"/>
<rect x="245.5" y="419.5" width="12" height="96" stroke="#5a5a5a" stroke-width="1" fill="none"/>
<line x1="245.7" y1="438.5" x2="257.3" y2="438.5" stroke="#6e6e6e" stroke-width="1"/>
<line x1="245.7" y1="456.5" x2="257.3" y2="456.5" stroke="#6e6e6e" stroke-width="1"/>
<line x1="245.7" y1="495.5" x2="257.3" y2="495.5" stroke="#6e6e6e" stroke-width="1"/>
<circle cx="251.5" cy="429.2" r="3.7" stroke="#3a3a3a" stroke-width="1.2" fill="#fff"/>
<line x1="247.8" y1="429.2" x2="255.2" y2="429.2" stroke="#3a3a3a" stroke-width="1.5"/>
<line x1="251.5" y1="425.5" x2="251.5" y2="432.9" stroke="#3a3a3a" stroke-width="1.5"/>
<circle cx="251.5" cy="447.3" r="3.7" stroke="#3a3a3a" stroke-width="1.2" fill="#fff"/>
<line x1="247.8" y1="447.3" x2="255.2" y2="447.3" stroke="#3a3a3a" stroke-width="1.5"/>
<line x1="251.5" y1="443.6" x2="251.5" y2="451" stroke="#3a3a3a" stroke-width="1.5"/>
<circle cx="251.5" cy="507.3" r="3.7" stroke="#3a3a3a" stroke-width="1.2" fill="#fff"/>
<line x1="247.8" y1="507.3" x2="255.2" y2="507.3" stroke="#3a3a3a" stroke-width="1.5"/>
<line x1="251.5" y1="503.6" x2="251.5" y2="511" stroke="#3a3a3a" stroke-width="1.5"/>
<line x1="245.7" y1="458.5" x2="257.3" y2="458.5" stroke="#858585" stroke-width="0.9"/>
<line x1="245.7" y1="460.5" x2="257.3" y2="460.5" stroke="#858585" stroke-width="0.9"/>
<line x1="245.7" y1="462.5" x2="257.3" y2="462.5" stroke="#858585" stroke-width="0.9"/>
<line x1="245.7" y1="465.5" x2="257.3" y2="465.5" stroke="#858585" stroke-width="0.9"/>
<line x1="245.7" y1="467.5" x2="257.3" y2="467.5" stroke="#858585" stroke-width="0.9"/>
<line x1="245.7" y1="469.5" x2="257.3" y2="469.5" stroke="#858585" stroke-width="0.9"/>
<line x1="245.7" y1="471.5" x2="257.3" y2="471.5" stroke="#858585" stroke-width="0.9"/>
<line x1="245.7" y1="473.5" x2="257.3" y2="473.5" stroke="#858585" stroke-width="0.9"/>
<line x1="245.7" y1="475.5" x2="257.3" y2="475.5" stroke="#858585" stroke-width="0.9"/>
<line x1="245.7" y1="477.5" x2="257.3" y2="477.5" stroke="#858585" stroke-width="0.9"/>
<line x1="245.7" y1="480.5" x2="257.3" y2="480.5" stroke="#858585" stroke-width="0.9"/>
<line x1="245.7" y1="482.5" x2="257.3" y2="482.5" stroke="#858585" stroke-width="0.9"/>
<line x1="245.7" y1="484.5" x2="257.3" y2="484.5" stroke="#858585" stroke-width="0.9"/>
<line x1="245.7" y1="486.5" x2="257.3" y2="486.5" stroke="#858585" stroke-width="0.9"/>
<line x1="245.7" y1="488.5" x2="257.3" y2="488.5" stroke="#858585" stroke-width="0.9"/>
<line x1="245.7" y1="490.5" x2="257.3" y2="490.5" stroke="#858585" stroke-width="0.9"/>
<line x1="245.7" y1="492.5" x2="257.3" y2="492.5" stroke="#858585" stroke-width="0.9"/>
<rect x="257.5" y="419.5" width="21" height="96" stroke="#6e6e6e" stroke-width="1" fill="none"/>
<line x1="257.3" y1="438.5" x2="278.9" y2="438.5" stroke="#6e6e6e" stroke-width="1"/>
<line x1="257.3" y1="456.5" x2="278.9" y2="456.5" stroke="#6e6e6e" stroke-width="1"/>
<line x1="257.3" y1="495.5" x2="278.9" y2="495.5" stroke="#6e6e6e" stroke-width="1"/>
<line x1="265.5" y1="419.6" x2="265.5" y2="425.5" stroke="#555" stroke-width="1"/>
<line x1="272.5" y1="419.6" x2="272.5" y2="425.5" stroke="#666" stroke-width="1"/>
<circle cx="268.1" cy="429.8" r="5.2" stroke="#444" stroke-width="1" fill="#fff"/>
<line x1="262.9" y1="429.5" x2="273.3" y2="429.5" stroke="#444" stroke-width="1.25"/>
<line x1="268.5" y1="424.6" x2="268.5" y2="435" stroke="#444" stroke-width="1.25"/>
<text x="268.3" y="450.8" font-size="11.6" fill="#2a2a2a" stroke="#2a2a2a" stroke-width="0.1" text-anchor="middle" font-weight="normal">FU</text>
<rect x="260.5" y="459.5" width="15" height="29" stroke="#777" stroke-width="1" fill="none" rx="1"/>
<line x1="260.3" y1="459.5" x2="275.9" y2="459.5" stroke="#555" stroke-width="1"/>
<line x1="261.5" y1="460.5" x2="261.5" y2="483.9" stroke="#b0b0b0" stroke-width="1"/>
<line x1="274.5" y1="460.5" x2="274.5" y2="483.9" stroke="#b0b0b0" stroke-width="1"/>
<line x1="260.3" y1="483.5" x2="275.9" y2="483.5" stroke="#666" stroke-width="1"/>
<circle cx="268.1" cy="505.2" r="5.4" stroke="#444" stroke-width="1" fill="#fff"/>
<line x1="262.7" y1="505.5" x2="273.5" y2="505.5" stroke="#444" stroke-width="1.25"/>
<line x1="268.5" y1="499.8" x2="268.5" y2="510.6" stroke="#444" stroke-width="1.25"/>
<line x1="259.5" y1="515.2" x2="259.5" y2="518" stroke="#888" stroke-width="1"/>
<line x1="276.5" y1="515.2" x2="276.5" y2="518" stroke="#888" stroke-width="1"/>
<line x1="260.1" y1="517.9" x2="276.1" y2="517.9" stroke="#555" stroke-width="1.5"/>
<rect x="278.5" y="419.5" width="22" height="96" stroke="#6e6e6e" stroke-width="1" fill="none"/>
<line x1="278.9" y1="438.5" x2="300.5" y2="438.5" stroke="#6e6e6e" stroke-width="1"/>
<line x1="278.9" y1="456.5" x2="300.5" y2="456.5" stroke="#6e6e6e" stroke-width="1"/>
<line x1="278.9" y1="495.5" x2="300.5" y2="495.5" stroke="#6e6e6e" stroke-width="1"/>
<line x1="286.5" y1="419.6" x2="286.5" y2="425.5" stroke="#555" stroke-width="1"/>
<line x1="293.5" y1="419.6" x2="293.5" y2="425.5" stroke="#666" stroke-width="1"/>
<circle cx="289.7" cy="429.8" r="5.2" stroke="#444" stroke-width="1" fill="#fff"/>
<line x1="284.5" y1="429.5" x2="294.9" y2="429.5" stroke="#444" stroke-width="1.25"/>
<line x1="289.5" y1="424.6" x2="289.5" y2="435" stroke="#444" stroke-width="1.25"/>
<text x="289.9" y="450.8" font-size="11.6" fill="#2a2a2a" stroke="#2a2a2a" stroke-width="0.1" text-anchor="middle" font-weight="normal">FU</text>
<rect x="281.5" y="459.5" width="16" height="29" stroke="#777" stroke-width="1" fill="none" rx="1"/>
<line x1="281.9" y1="459.5" x2="297.5" y2="459.5" stroke="#555" stroke-width="1"/>
<line x1="283.5" y1="460.5" x2="283.5" y2="483.9" stroke="#b0b0b0" stroke-width="1"/>
<line x1="296.5" y1="460.5" x2="296.5" y2="483.9" stroke="#b0b0b0" stroke-width="1"/>
<line x1="281.9" y1="483.5" x2="297.5" y2="483.5" stroke="#666" stroke-width="1"/>
<circle cx="289.7" cy="505.2" r="5.4" stroke="#444" stroke-width="1" fill="#fff"/>
<line x1="284.3" y1="505.5" x2="295.1" y2="505.5" stroke="#444" stroke-width="1.25"/>
<line x1="289.5" y1="499.8" x2="289.5" y2="510.6" stroke="#444" stroke-width="1.25"/>
<line x1="281.5" y1="515.2" x2="281.5" y2="518" stroke="#888" stroke-width="1"/>
<line x1="298.5" y1="515.2" x2="298.5" y2="518" stroke="#888" stroke-width="1"/>
<line x1="281.7" y1="517.9" x2="297.7" y2="517.9" stroke="#555" stroke-width="1.5"/>
<rect x="300.5" y="419.5" width="22" height="96" stroke="#6e6e6e" stroke-width="1" fill="none"/>
<line x1="300.5" y1="438.5" x2="322.1" y2="438.5" stroke="#6e6e6e" stroke-width="1"/>
<line x1="300.5" y1="456.5" x2="322.1" y2="456.5" stroke="#6e6e6e" stroke-width="1"/>
<line x1="300.5" y1="495.5" x2="322.1" y2="495.5" stroke="#6e6e6e" stroke-width="1"/>
<line x1="308.5" y1="419.6" x2="308.5" y2="425.5" stroke="#555" stroke-width="1"/>
<line x1="315.5" y1="419.6" x2="315.5" y2="425.5" stroke="#666" stroke-width="1"/>
<circle cx="311.3" cy="429.8" r="5.2" stroke="#444" stroke-width="1" fill="#fff"/>
<line x1="306.1" y1="429.5" x2="316.5" y2="429.5" stroke="#444" stroke-width="1.25"/>
<line x1="311.5" y1="424.6" x2="311.5" y2="435" stroke="#444" stroke-width="1.25"/>
<text x="311.5" y="450.8" font-size="11.6" fill="#2a2a2a" stroke="#2a2a2a" stroke-width="0.1" text-anchor="middle" font-weight="normal">FU</text>
<rect x="303.5" y="459.5" width="16" height="29" stroke="#777" stroke-width="1" fill="none" rx="1"/>
<line x1="303.5" y1="459.5" x2="319.1" y2="459.5" stroke="#555" stroke-width="1"/>
<line x1="304.5" y1="460.5" x2="304.5" y2="483.9" stroke="#b0b0b0" stroke-width="1"/>
<line x1="317.5" y1="460.5" x2="317.5" y2="483.9" stroke="#b0b0b0" stroke-width="1"/>
<line x1="303.5" y1="483.5" x2="319.1" y2="483.5" stroke="#666" stroke-width="1"/>
<circle cx="311.3" cy="505.2" r="5.4" stroke="#444" stroke-width="1" fill="#fff"/>
<line x1="305.9" y1="505.5" x2="316.7" y2="505.5" stroke="#444" stroke-width="1.25"/>
<line x1="311.5" y1="499.8" x2="311.5" y2="510.6" stroke="#444" stroke-width="1.25"/>
<line x1="302.5" y1="515.2" x2="302.5" y2="518" stroke="#888" stroke-width="1"/>
<line x1="319.5" y1="515.2" x2="319.5" y2="518" stroke="#888" stroke-width="1"/>
<line x1="303.3" y1="517.9" x2="319.3" y2="517.9" stroke="#555" stroke-width="1.5"/>
<rect x="322.5" y="419.5" width="21" height="96" stroke="#6e6e6e" stroke-width="1" fill="none"/>
<line x1="322.1" y1="438.5" x2="343.7" y2="438.5" stroke="#6e6e6e" stroke-width="1"/>
<line x1="322.1" y1="456.5" x2="343.7" y2="456.5" stroke="#6e6e6e" stroke-width="1"/>
<line x1="322.1" y1="495.5" x2="343.7" y2="495.5" stroke="#6e6e6e" stroke-width="1"/>
<line x1="329.5" y1="419.6" x2="329.5" y2="425.5" stroke="#555" stroke-width="1"/>
<line x1="337.5" y1="419.6" x2="337.5" y2="425.5" stroke="#666" stroke-width="1"/>
<circle cx="332.9" cy="429.8" r="5.2" stroke="#444" stroke-width="1" fill="#fff"/>
<line x1="327.7" y1="429.5" x2="338.1" y2="429.5" stroke="#444" stroke-width="1.25"/>
<line x1="332.5" y1="424.6" x2="332.5" y2="435" stroke="#444" stroke-width="1.25"/>
<text x="333.1" y="450.8" font-size="11.6" fill="#2a2a2a" stroke="#2a2a2a" stroke-width="0.1" text-anchor="middle" font-weight="normal">FU</text>
<rect x="325.5" y="459.5" width="15" height="29" stroke="#777" stroke-width="1" fill="none" rx="1"/>
<line x1="325.1" y1="459.5" x2="340.7" y2="459.5" stroke="#555" stroke-width="1"/>
<line x1="326.5" y1="460.5" x2="326.5" y2="483.9" stroke="#b0b0b0" stroke-width="1"/>
<line x1="339.5" y1="460.5" x2="339.5" y2="483.9" stroke="#b0b0b0" stroke-width="1"/>
<line x1="325.1" y1="483.5" x2="340.7" y2="483.5" stroke="#666" stroke-width="1"/>
<circle cx="332.9" cy="505.2" r="5.4" stroke="#444" stroke-width="1" fill="#fff"/>
<line x1="327.5" y1="505.5" x2="338.3" y2="505.5" stroke="#444" stroke-width="1.25"/>
<line x1="332.5" y1="499.8" x2="332.5" y2="510.6" stroke="#444" stroke-width="1.25"/>
<line x1="324.5" y1="515.2" x2="324.5" y2="518" stroke="#888" stroke-width="1"/>
<line x1="341.5" y1="515.2" x2="341.5" y2="518" stroke="#888" stroke-width="1"/>
<line x1="324.9" y1="517.9" x2="340.9" y2="517.9" stroke="#555" stroke-width="1.5"/>
<rect x="343.5" y="419.5" width="22" height="96" stroke="#6e6e6e" stroke-width="1" fill="none"/>
<line x1="343.7" y1="438.5" x2="365.3" y2="438.5" stroke="#6e6e6e" stroke-width="1"/>
<line x1="343.7" y1="456.5" x2="365.3" y2="456.5" stroke="#6e6e6e" stroke-width="1"/>
<line x1="343.7" y1="495.5" x2="365.3" y2="495.5" stroke="#6e6e6e" stroke-width="1"/>
<line x1="351.5" y1="419.6" x2="351.5" y2="425.5" stroke="#555" stroke-width="1"/>
<line x1="358.5" y1="419.6" x2="358.5" y2="425.5" stroke="#666" stroke-width="1"/>
<circle cx="354.5" cy="429.8" r="5.2" stroke="#444" stroke-width="1" fill="#fff"/>
<line x1="349.3" y1="429.5" x2="359.7" y2="429.5" stroke="#444" stroke-width="1.25"/>
<line x1="354.5" y1="424.6" x2="354.5" y2="435" stroke="#444" stroke-width="1.25"/>
<text x="354.7" y="450.8" font-size="11.6" fill="#2a2a2a" stroke="#2a2a2a" stroke-width="0.1" text-anchor="middle" font-weight="normal">FU</text>
<rect x="346.5" y="459.5" width="16" height="29" stroke="#777" stroke-width="1" fill="none" rx="1"/>
<line x1="346.7" y1="459.5" x2="362.3" y2="459.5" stroke="#555" stroke-width="1"/>
<line x1="348.5" y1="460.5" x2="348.5" y2="483.9" stroke="#b0b0b0" stroke-width="1"/>
<line x1="361.5" y1="460.5" x2="361.5" y2="483.9" stroke="#b0b0b0" stroke-width="1"/>
<line x1="346.7" y1="483.5" x2="362.3" y2="483.5" stroke="#666" stroke-width="1"/>
<circle cx="354.5" cy="505.2" r="5.4" stroke="#444" stroke-width="1" fill="#fff"/>
<line x1="349.1" y1="505.5" x2="359.9" y2="505.5" stroke="#444" stroke-width="1.25"/>
<line x1="354.5" y1="499.8" x2="354.5" y2="510.6" stroke="#444" stroke-width="1.25"/>
<line x1="346.5" y1="515.2" x2="346.5" y2="518" stroke="#888" stroke-width="1"/>
<line x1="363.5" y1="515.2" x2="363.5" y2="518" stroke="#888" stroke-width="1"/>
<line x1="346.5" y1="517.9" x2="362.5" y2="517.9" stroke="#555" stroke-width="1.5"/>
<rect x="365.5" y="419.5" width="21" height="96" stroke="#6e6e6e" stroke-width="1" fill="none"/>
<line x1="365.3" y1="438.5" x2="386.9" y2="438.5" stroke="#6e6e6e" stroke-width="1"/>
<line x1="365.3" y1="456.5" x2="386.9" y2="456.5" stroke="#6e6e6e" stroke-width="1"/>
<line x1="365.3" y1="495.5" x2="386.9" y2="495.5" stroke="#6e6e6e" stroke-width="1"/>
<line x1="373.5" y1="419.6" x2="373.5" y2="425.5" stroke="#555" stroke-width="1"/>
<line x1="380.5" y1="419.6" x2="380.5" y2="425.5" stroke="#666" stroke-width="1"/>
<circle cx="376.1" cy="429.8" r="5.2" stroke="#444" stroke-width="1" fill="#fff"/>
<line x1="370.9" y1="429.5" x2="381.3" y2="429.5" stroke="#444" stroke-width="1.25"/>
<line x1="376.5" y1="424.6" x2="376.5" y2="435" stroke="#444" stroke-width="1.25"/>
<text x="376.3" y="450.8" font-size="11.6" fill="#2a2a2a" stroke="#2a2a2a" stroke-width="0.1" text-anchor="middle" font-weight="normal">FU</text>
<rect x="368.5" y="459.5" width="15" height="29" stroke="#777" stroke-width="1" fill="none" rx="1"/>
<line x1="368.3" y1="459.5" x2="383.9" y2="459.5" stroke="#555" stroke-width="1"/>
<line x1="369.5" y1="460.5" x2="369.5" y2="483.9" stroke="#b0b0b0" stroke-width="1"/>
<line x1="382.5" y1="460.5" x2="382.5" y2="483.9" stroke="#b0b0b0" stroke-width="1"/>
<line x1="368.3" y1="483.5" x2="383.9" y2="483.5" stroke="#666" stroke-width="1"/>
<circle cx="376.1" cy="505.2" r="5.4" stroke="#444" stroke-width="1" fill="#fff"/>
<line x1="370.7" y1="505.5" x2="381.5" y2="505.5" stroke="#444" stroke-width="1.25"/>
<line x1="376.5" y1="499.8" x2="376.5" y2="510.6" stroke="#444" stroke-width="1.25"/>
<line x1="367.5" y1="515.2" x2="367.5" y2="518" stroke="#888" stroke-width="1"/>
<line x1="384.5" y1="515.2" x2="384.5" y2="518" stroke="#888" stroke-width="1"/>
<line x1="368.1" y1="517.9" x2="384.1" y2="517.9" stroke="#555" stroke-width="1.5"/>
<rect x="386.5" y="419.5" width="22" height="96" stroke="#6e6e6e" stroke-width="1" fill="none"/>
<line x1="386.9" y1="438.5" x2="408.5" y2="438.5" stroke="#6e6e6e" stroke-width="1"/>
<line x1="386.9" y1="456.5" x2="408.5" y2="456.5" stroke="#6e6e6e" stroke-width="1"/>
<line x1="386.9" y1="495.5" x2="408.5" y2="495.5" stroke="#6e6e6e" stroke-width="1"/>
<line x1="394.5" y1="419.6" x2="394.5" y2="425.5" stroke="#555" stroke-width="1"/>
<line x1="401.5" y1="419.6" x2="401.5" y2="425.5" stroke="#666" stroke-width="1"/>
<circle cx="397.7" cy="429.8" r="5.2" stroke="#444" stroke-width="1" fill="#fff"/>
<line x1="392.5" y1="429.5" x2="402.9" y2="429.5" stroke="#444" stroke-width="1.25"/>
<line x1="397.5" y1="424.6" x2="397.5" y2="435" stroke="#444" stroke-width="1.25"/>
<text x="397.9" y="450.8" font-size="11.6" fill="#2a2a2a" stroke="#2a2a2a" stroke-width="0.1" text-anchor="middle" font-weight="normal">FU</text>
<rect x="389.5" y="459.5" width="16" height="29" stroke="#777" stroke-width="1" fill="none" rx="1"/>
<line x1="389.9" y1="459.5" x2="405.5" y2="459.5" stroke="#555" stroke-width="1"/>
<line x1="391.5" y1="460.5" x2="391.5" y2="483.9" stroke="#b0b0b0" stroke-width="1"/>
<line x1="404.5" y1="460.5" x2="404.5" y2="483.9" stroke="#b0b0b0" stroke-width="1"/>
<line x1="389.9" y1="483.5" x2="405.5" y2="483.5" stroke="#666" stroke-width="1"/>
<circle cx="397.7" cy="505.2" r="5.4" stroke="#444" stroke-width="1" fill="#fff"/>
<line x1="392.3" y1="505.5" x2="403.1" y2="505.5" stroke="#444" stroke-width="1.25"/>
<line x1="397.5" y1="499.8" x2="397.5" y2="510.6" stroke="#444" stroke-width="1.25"/>
<line x1="389.5" y1="515.2" x2="389.5" y2="518" stroke="#888" stroke-width="1"/>
<line x1="406.5" y1="515.2" x2="406.5" y2="518" stroke="#888" stroke-width="1"/>
<line x1="389.7" y1="517.9" x2="405.7" y2="517.9" stroke="#555" stroke-width="1.5"/>
<rect x="408.5" y="419.5" width="22" height="96" stroke="#6e6e6e" stroke-width="1" fill="none"/>
<line x1="408.5" y1="438.5" x2="430.1" y2="438.5" stroke="#6e6e6e" stroke-width="1"/>
<line x1="408.5" y1="456.5" x2="430.1" y2="456.5" stroke="#6e6e6e" stroke-width="1"/>
<line x1="408.5" y1="495.5" x2="430.1" y2="495.5" stroke="#6e6e6e" stroke-width="1"/>
<line x1="416.5" y1="419.6" x2="416.5" y2="425.5" stroke="#555" stroke-width="1"/>
<line x1="423.5" y1="419.6" x2="423.5" y2="425.5" stroke="#666" stroke-width="1"/>
<circle cx="419.3" cy="429.8" r="5.2" stroke="#444" stroke-width="1" fill="#fff"/>
<line x1="414.1" y1="429.5" x2="424.5" y2="429.5" stroke="#444" stroke-width="1.25"/>
<line x1="419.5" y1="424.6" x2="419.5" y2="435" stroke="#444" stroke-width="1.25"/>
<text x="419.5" y="450.8" font-size="11.6" fill="#2a2a2a" stroke="#2a2a2a" stroke-width="0.1" text-anchor="middle" font-weight="normal">FU</text>
<rect x="411.5" y="459.5" width="16" height="29" stroke="#777" stroke-width="1" fill="none" rx="1"/>
<line x1="411.5" y1="459.5" x2="427.1" y2="459.5" stroke="#555" stroke-width="1"/>
<line x1="412.5" y1="460.5" x2="412.5" y2="483.9" stroke="#b0b0b0" stroke-width="1"/>
<line x1="425.5" y1="460.5" x2="425.5" y2="483.9" stroke="#b0b0b0" stroke-width="1"/>
<line x1="411.5" y1="483.5" x2="427.1" y2="483.5" stroke="#666" stroke-width="1"/>
<circle cx="419.3" cy="505.2" r="5.4" stroke="#444" stroke-width="1" fill="#fff"/>
<line x1="413.9" y1="505.5" x2="424.7" y2="505.5" stroke="#444" stroke-width="1.25"/>
<line x1="419.5" y1="499.8" x2="419.5" y2="510.6" stroke="#444" stroke-width="1.25"/>
<line x1="410.5" y1="515.2" x2="410.5" y2="518" stroke="#888" stroke-width="1"/>
<line x1="427.5" y1="515.2" x2="427.5" y2="518" stroke="#888" stroke-width="1"/>
<line x1="411.3" y1="517.9" x2="427.3" y2="517.9" stroke="#555" stroke-width="1.5"/>
<rect x="430.5" y="419.5" width="11" height="96" stroke="#5a5a5a" stroke-width="1" fill="none"/>
<line x1="430.1" y1="438.5" x2="441.5" y2="438.5" stroke="#6e6e6e" stroke-width="1"/>
<line x1="430.1" y1="456.5" x2="441.5" y2="456.5" stroke="#6e6e6e" stroke-width="1"/>
<line x1="430.1" y1="495.5" x2="441.5" y2="495.5" stroke="#6e6e6e" stroke-width="1"/>
<circle cx="435.8" cy="429.2" r="3.7" stroke="#3a3a3a" stroke-width="1.2" fill="#fff"/>
<line x1="432.1" y1="429.2" x2="439.5" y2="429.2" stroke="#3a3a3a" stroke-width="1.5"/>
<line x1="435.8" y1="425.5" x2="435.8" y2="432.9" stroke="#3a3a3a" stroke-width="1.5"/>
<circle cx="435.8" cy="447.3" r="3.7" stroke="#3a3a3a" stroke-width="1.2" fill="#fff"/>
<line x1="432.1" y1="447.3" x2="439.5" y2="447.3" stroke="#3a3a3a" stroke-width="1.5"/>
<line x1="435.8" y1="443.6" x2="435.8" y2="451" stroke="#3a3a3a" stroke-width="1.5"/>
<circle cx="435.8" cy="507.3" r="3.7" stroke="#3a3a3a" stroke-width="1.2" fill="#fff"/>
<line x1="432.1" y1="507.3" x2="439.5" y2="507.3" stroke="#3a3a3a" stroke-width="1.5"/>
<line x1="435.8" y1="503.6" x2="435.8" y2="511" stroke="#3a3a3a" stroke-width="1.5"/>
<line x1="430.1" y1="458.5" x2="441.5" y2="458.5" stroke="#858585" stroke-width="0.9"/>
<line x1="430.1" y1="460.5" x2="441.5" y2="460.5" stroke="#858585" stroke-width="0.9"/>
<line x1="430.1" y1="462.5" x2="441.5" y2="462.5" stroke="#858585" stroke-width="0.9"/>
<line x1="430.1" y1="465.5" x2="441.5" y2="465.5" stroke="#858585" stroke-width="0.9"/>
<line x1="430.1" y1="467.5" x2="441.5" y2="467.5" stroke="#858585" stroke-width="0.9"/>
<line x1="430.1" y1="469.5" x2="441.5" y2="469.5" stroke="#858585" stroke-width="0.9"/>
<line x1="430.1" y1="471.5" x2="441.5" y2="471.5" stroke="#858585" stroke-width="0.9"/>
<line x1="430.1" y1="473.5" x2="441.5" y2="473.5" stroke="#858585" stroke-width="0.9"/>
<line x1="430.1" y1="475.5" x2="441.5" y2="475.5" stroke="#858585" stroke-width="0.9"/>
<line x1="430.1" y1="477.5" x2="441.5" y2="477.5" stroke="#858585" stroke-width="0.9"/>
<line x1="430.1" y1="480.5" x2="441.5" y2="480.5" stroke="#858585" stroke-width="0.9"/>
<line x1="430.1" y1="482.5" x2="441.5" y2="482.5" stroke="#858585" stroke-width="0.9"/>
<line x1="430.1" y1="484.5" x2="441.5" y2="484.5" stroke="#858585" stroke-width="0.9"/>
<line x1="430.1" y1="486.5" x2="441.5" y2="486.5" stroke="#858585" stroke-width="0.9"/>
<line x1="430.1" y1="488.5" x2="441.5" y2="488.5" stroke="#858585" stroke-width="0.9"/>
<line x1="430.1" y1="490.5" x2="441.5" y2="490.5" stroke="#858585" stroke-width="0.9"/>
<line x1="430.1" y1="492.5" x2="441.5" y2="492.5" stroke="#858585" stroke-width="0.9"/>
<rect x="446.5" y="469.5" width="96" height="25" stroke="#6e6e6e" stroke-width="1" fill="none"/>
<circle cx="455.5" cy="481.3" r="4.6" stroke="#555" stroke-width="1" fill="none"/>
<circle cx="473.1" cy="481.3" r="4.6" stroke="#555" stroke-width="1" fill="none"/>
<circle cx="490.9" cy="481.3" r="4.6" stroke="#555" stroke-width="1" fill="none"/>
<circle cx="513.1" cy="481.3" r="5.8" stroke="#555" stroke-width="1" fill="none"/>
<circle cx="534" cy="481.3" r="4.6" stroke="#555" stroke-width="1" fill="none"/>
<line x1="38.5" y1="58.3" x2="38.5" y2="424" stroke="#e4677a" stroke-width="1"/>
<line x1="59.5" y1="58.3" x2="59.5" y2="424" stroke="#e4677a" stroke-width="1"/>
<line x1="80.5" y1="58.3" x2="80.5" y2="424" stroke="#e4677a" stroke-width="1"/>
<line x1="102.5" y1="58.3" x2="102.5" y2="424" stroke="#e4677a" stroke-width="1"/>
<line x1="124.5" y1="58.3" x2="124.5" y2="424" stroke="#e4677a" stroke-width="1"/>
<line x1="146.5" y1="58.3" x2="146.5" y2="424" stroke="#e4677a" stroke-width="1"/>
<line x1="167.5" y1="58.3" x2="167.5" y2="424" stroke="#e4677a" stroke-width="1"/>
<line x1="189.5" y1="58.3" x2="189.5" y2="424" stroke="#e4677a" stroke-width="1"/>
<line x1="528.5" y1="203.4" x2="528.5" y2="420" stroke="#8f8fd0" stroke-width="1"/>
<line x1="553.5" y1="203.4" x2="553.5" y2="420" stroke="#c4c4e6" stroke-width="1.2"/>
<line x1="257.3" y1="402.5" x2="553.3" y2="402.5" stroke="#8f8fd0" stroke-width="1"/>
<line x1="257.5" y1="402.2" x2="257.5" y2="420" stroke="#8f8fd0" stroke-width="1"/>
<line x1="257.3" y1="419.5" x2="553.3" y2="419.5" stroke="#c4c4e6" stroke-width="1.2"/>
<line x1="528.5" y1="234.5" x2="553.3" y2="234.5" stroke="#666" stroke-width="1"/>
<line x1="528.5" y1="203.4" x2="528.5" y2="234.3" stroke="#7a7a9a" stroke-width="1"/>
<line x1="553.5" y1="203.4" x2="553.5" y2="234.3" stroke="#7a7a9a" stroke-width="1"/>
<circle cx="540.7" cy="222.2" r="5.8" stroke="#555" stroke-width="1" fill="none"/>
<circle cx="540.6" cy="411.5" r="4.5" stroke="#555" stroke-width="1" fill="none"/>
<line x1="570.5" y1="203.4" x2="570.5" y2="377.2" stroke="#8f8fd0" stroke-width="1"/>
<line x1="595.5" y1="203.4" x2="595.5" y2="377.2" stroke="#c4c4e6" stroke-width="1.2"/>
<line x1="570.9" y1="377.5" x2="595.7" y2="377.5" stroke="#c4c4e6" stroke-width="1"/>
<line x1="570.9" y1="234.5" x2="595.7" y2="234.5" stroke="#666" stroke-width="1"/>
<line x1="570.5" y1="203.4" x2="570.5" y2="234.3" stroke="#7a7a9a" stroke-width="1"/>
<line x1="595.5" y1="203.4" x2="595.5" y2="234.3" stroke="#7a7a9a" stroke-width="1"/>
<circle cx="583" cy="222.2" r="5.8" stroke="#555" stroke-width="1" fill="none"/>
<circle cx="583" cy="365" r="4.5" stroke="#555" stroke-width="1" fill="none"/>
<rect x="615.5" y="203.5" width="25" height="150" stroke="#e3243b" stroke-width="1" fill="none"/>
<line x1="615.9" y1="234.5" x2="640" y2="234.5" stroke="#666" stroke-width="1"/>
<circle cx="627.1" cy="222.2" r="5.8" stroke="#555" stroke-width="1" fill="none"/>
<circle cx="627.8" cy="341" r="5" stroke="#555" stroke-width="1" fill="none"/>
<line x1="659.5" y1="203.4" x2="659.5" y2="332.5" stroke="#e3243b" stroke-width="1"/>
<line x1="683.5" y1="203.4" x2="683.5" y2="332.5" stroke="#e3243b" stroke-width="1"/>
<line x1="615.9" y1="203.5" x2="640" y2="203.5" stroke="#e3243b" stroke-width="1"/>
<line x1="659.2" y1="203.5" x2="683.3" y2="203.5" stroke="#e3243b" stroke-width="1"/>
<line x1="659.2" y1="234.5" x2="683.3" y2="234.5" stroke="#666" stroke-width="1"/>
<circle cx="671.1" cy="222.2" r="5.8" stroke="#555" stroke-width="1" fill="none"/>
<line x1="659.2" y1="314.5" x2="786.3" y2="314.5" stroke="#e3243b" stroke-width="1"/>
<line x1="659.2" y1="332.5" x2="786.3" y2="332.5" stroke="#e3243b" stroke-width="1"/>
<circle cx="671.3" cy="322.8" r="4.4" stroke="#555" stroke-width="1" fill="none"/>
<circle cx="777.1" cy="322.8" r="4.4" stroke="#555" stroke-width="1" fill="none"/>
<line x1="502" y1="203.5" x2="708.5" y2="203.5" stroke="#777" stroke-width="1"/>
</svg></body></html>
